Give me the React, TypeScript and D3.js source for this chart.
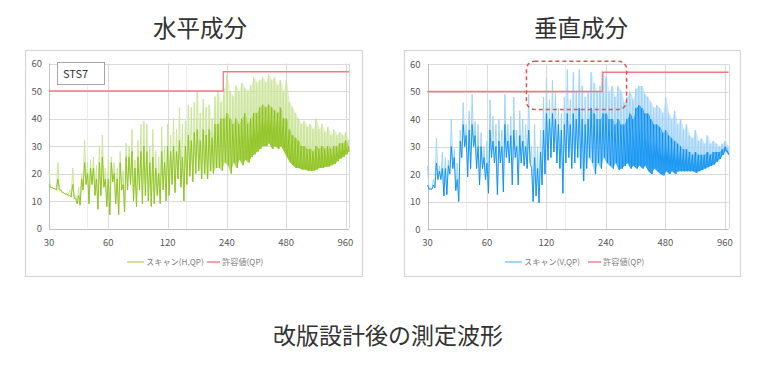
import { useEffect, useRef } from "react";
import * as d3 from "d3";

// scan is shown as log-spaced bins (20 per octave from 30 MHz): spike top, dense core top, dip
const binsPerOctave = 20;
const startFreq = 30;

const freqTicks = [30, 60, 120, 240, 480, 960];
const minorFreqLines = [47, 148];
const levelTicks = [0, 10, 20, 30, 40, 50, 60];

const limitFreqs = [30, 230, 230, 1000];
const limitLevels = [50, 50, 57, 57];

const hPeak = [
  21, 15, 14.5, 24, 14, 13, 12.5, 14, 22, 12, 15, 20, 32, 24, 25, 26, 23, 30, 34, 22,
  25, 26, 24, 22, 28, 21, 31, 30, 36, 25, 32, 38, 39, 38, 30, 36, 28, 26, 37, 30,
  38, 34, 40, 36, 44, 38, 39, 45, 44, 46, 50, 42, 47, 44, 45, 40, 48, 50, 46, 51,
  56, 50, 48, 52, 50, 53, 51, 50, 52, 55, 53, 54, 55, 53, 56, 54, 55, 52, 54, 50,
  54, 46, 44, 42, 40, 38, 39, 37, 38, 36, 40, 36, 38, 35, 37, 34, 36, 34, 35, 34,
  35, 32,
];
const hCore = [
  16, 15, 14.5, 18, 14, 13, 12.5, 12, 16, 11, 12, 18, 24, 20, 22, 22, 18, 24, 26, 18,
  18, 24, 20, 18, 24, 16, 26, 26, 28, 22, 26, 28, 30, 28, 24, 26, 22, 20, 28, 24,
  30, 28, 30, 28, 32, 26, 30, 34, 32, 35, 36, 32, 36, 34, 36, 33, 38, 38, 40, 40,
  42, 40, 38, 40, 38, 40, 42, 38, 40, 42, 42, 44, 45, 44, 45, 44, 43, 42, 44, 40,
  40, 36, 34, 33, 32, 30, 30, 29, 29, 28, 30, 29, 30, 29, 30, 29, 30, 30, 31, 31,
  32, 30,
];
const hDip = [
  15, 14.5, 14, 14, 13, 12.5, 12, 11.5, 11, 9, 8.5, 14, 16, 9, 16, 12, 7, 12, 15, 8,
  5, 17, 9, 5, 14, 6, 14, 16, 10, 8, 14, 9, 12, 10, 8, 9, 12, 9, 14, 10,
  12, 16, 13, 18, 15, 10, 16, 19, 17, 20, 21, 18, 20, 18, 21, 20, 22, 22, 21, 24,
  23, 20, 24, 22, 25, 23, 25, 24, 26, 27, 28, 29, 30, 30, 31, 29, 30, 29, 30, 28,
  26, 24, 23, 22, 22, 21.5, 21.5, 21, 21, 21, 21.5, 22, 22, 22.5, 22.5, 23, 23.5, 24.5, 25.5, 26,
  27, 28,
];

const vPeak = [
  23, 15, 18, 33, 23, 28, 26, 25, 40, 29, 24, 36, 46, 38, 43, 49, 39, 38, 35, 30,
  32, 47, 41, 38, 40, 36, 49, 38, 41, 48, 36, 43, 40, 38, 49, 30, 38, 30, 36, 48,
  55, 47, 54, 50, 44, 42, 48, 58, 47, 57, 50, 58, 52, 48, 50, 57, 53, 50, 52, 57,
  55, 50, 52, 48, 52, 50, 46, 48, 50, 47, 51, 52, 52, 49, 48, 46, 44, 45, 44, 42,
  48, 42, 40, 43, 38, 40, 36, 38, 34, 33, 36, 32, 33, 31, 34, 31, 32, 31, 30, 31,
  32, 30,
];
const vCore = [
  16, 14.5, 16, 24, 21, 22, 22, 23, 30, 26, 18, 32, 38, 34, 36, 38, 34, 30, 30, 26,
  24, 36, 32, 30, 32, 30, 38, 32, 34, 36, 30, 34, 32, 30, 36, 22, 26, 22, 28, 36,
  42, 40, 42, 40, 38, 36, 38, 42, 38, 42, 40, 44, 40, 38, 40, 44, 42, 40, 40, 42,
  42, 40, 40, 38, 40, 38, 38, 40, 42, 40, 44, 45, 44, 42, 42, 40, 38, 38, 37, 35,
  36, 34, 33, 32, 31, 30, 29, 29, 28, 27, 28, 27, 27, 27, 28, 27, 28, 28, 28, 29,
  30, 28,
];
const vDip = [
  14.5, 14.5, 15, 18, 18, 12, 12.5, 20, 22, 14, 10, 26, 30, 19, 22, 30, 22, 16, 22, 18,
  13, 26, 24, 12.5, 24, 13.5, 26, 24, 16, 26, 16, 24, 23, 22, 24, 10, 12, 9.5, 16, 20,
  25, 26, 28, 24, 22, 13, 24, 26, 22, 24, 26, 22, 17.5, 22, 26, 24, 20, 24, 22, 26,
  24, 23, 22, 24, 21.5, 22, 23, 24, 22, 23, 22, 23, 22, 23, 21, 20, 22, 21, 20, 19.5,
  21, 20, 21, 20, 21, 21, 21, 21, 21, 21, 20.5, 21, 21.5, 22, 22.5, 23, 23.5, 24.5, 25.5, 27,
  28.5, 27,
];

// area marked with the dashed box on the vertical chart (MHz, dBuV)
const highlightFreqs = [95, 305];
const highlightLevels = [43.5, 61];

const font = "'Noto Sans CJK JP', 'Noto Sans', sans-serif";

type Panel = {
  id: string;
  frame: [number, number, number, number];
  xRange: [number, number];
  yRange: [number, number];
  peak: number[];
  core: number[];
  dip: number[];
  dark: string;
  light: string;
  legendName: string;
  legendX: number;
  limitLegendX: number;
  title: string;
  titleX: number;
  label?: string;
  highlight?: boolean;
};

const panels: Panel[] = [
  {
    id: "h",
    frame: [25.5, 50.5, 337, 226],
    xRange: [49, 349],
    yRange: [228.5, 63.5],
    peak: hPeak,
    core: hCore,
    dip: hDip,
    dark: "#8cc21a",
    light: "#cce59c",
    legendName: "スキャン(H,QP)",
    legendX: 127,
    limitLegendX: 207,
    title: "水平成分",
    titleX: 200,
    label: "STS7",
  },
  {
    id: "v",
    frame: [404.5, 50.5, 336, 226],
    xRange: [427.5, 728.5],
    yRange: [229, 64],
    peak: vPeak,
    core: vCore,
    dip: vDip,
    dark: "#0a90f2",
    light: "#a2d4fa",
    legendName: "スキャン(V,QP)",
    legendX: 505,
    limitLegendX: 588,
    title: "垂直成分",
    titleX: 581,
    highlight: true,
  },
];

const App = () => {
  const svgRef = useRef<SVGSVGElement>(null);

  useEffect(() => {
    const svg = d3.select(svgRef.current);
    svg.selectAll("*").remove();

    svg.append("rect").attr("width", 776).attr("height", 370).attr("fill", "white");
    const defs = svg.append("defs");

    panels.forEach((p) => {
      const [fx, fy, fw, fh] = p.frame;
      const g = svg.append("g");

      // chart frame
      g.append("rect")
        .attr("x", fx)
        .attr("y", fy)
        .attr("width", fw)
        .attr("height", fh)
        .attr("fill", "white")
        .attr("stroke", "#d6d6d6")
        .attr("stroke-width", 1.2);

      const x = d3.scaleLog().domain([startFreq, 1000]).range(p.xRange);
      const y = d3.scaleLinear().domain([0, 60]).range(p.yRange);

      // horizontal grid
      g.selectAll(".hgrid")
        .data(levelTicks)
        .enter()
        .append("line")
        .attr("x1", p.xRange[0])
        .attr("x2", p.xRange[1])
        .attr("y1", (d) => Math.round(y(d)) + 0.5)
        .attr("y2", (d) => Math.round(y(d)) + 0.5)
        .attr("stroke", "#d9d9d9")
        .attr("stroke-width", 1);

      // vertical grid
      g.selectAll(".vgrid")
        .data([...freqTicks, 1000])
        .enter()
        .append("line")
        .attr("x1", (d) => Math.round(x(d)) + 0.5)
        .attr("x2", (d) => Math.round(x(d)) + 0.5)
        .attr("y1", p.yRange[1])
        .attr("y2", p.yRange[0])
        .attr("stroke", "#d9d9d9")
        .attr("stroke-width", 1);

      g.selectAll(".mgrid")
        .data(minorFreqLines)
        .enter()
        .append("line")
        .attr("x1", (d) => Math.round(x(d)) + 0.5)
        .attr("x2", (d) => Math.round(x(d)) + 0.5)
        .attr("y1", p.yRange[1])
        .attr("y2", p.yRange[0])
        .attr("stroke", "#ececec")
        .attr("stroke-width", 1);

      // axis lines
      g.append("line")
        .attr("x1", p.xRange[0])
        .attr("x2", p.xRange[1])
        .attr("y1", Math.round(y(0)) + 0.5)
        .attr("y2", Math.round(y(0)) + 0.5)
        .attr("stroke", "#bfbfbf");
      g.append("line")
        .attr("x1", Math.round(p.xRange[0]) + 0.5)
        .attr("x2", Math.round(p.xRange[0]) + 0.5)
        .attr("y1", p.yRange[1])
        .attr("y2", p.yRange[0])
        .attr("stroke", "#bfbfbf");

      // tick labels
      g.selectAll(".ylab")
        .data(levelTicks)
        .enter()
        .append("text")
        .attr("x", p.xRange[0] - 7)
        .attr("y", (d) => y(d) + 3.5)
        .attr("text-anchor", "end")
        .attr("font-family", font)
        .attr("font-size", 9.5)
        .attr("fill", "#595959")
        .text((d) => d);

      g.selectAll(".xlab")
        .data(freqTicks)
        .enter()
        .append("text")
        .attr("x", (d) => x(d))
        .attr("y", p.yRange[0] + 17)
        .attr("text-anchor", "middle")
        .attr("font-family", font)
        .attr("font-size", 9.5)
        .attr("fill", "#595959")
        .text((d) => d);

      const binFreq = (i: number) => Math.min(startFreq * Math.pow(2, i / binsPerOctave), 1000);

      // scan points get denser with frequency: fade in a solid fill for the upper band
      const grad = (name: string, f0: number, f1: number, op: number) => {
        const lg = defs
          .append("linearGradient")
          .attr("id", `${p.id}-${name}`)
          .attr("gradientUnits", "userSpaceOnUse")
          .attr("x1", x(f0))
          .attr("x2", x(f1))
          .attr("y1", 0)
          .attr("y2", 0);
        lg.append("stop").attr("offset", 0).attr("stop-color", name === "dark" ? p.dark : p.light).attr("stop-opacity", 0);
        lg.append("stop").attr("offset", 1).attr("stop-color", name === "dark" ? p.dark : p.light).attr("stop-opacity", op);
      };
      grad("light", 140, 300, 0.55);
      grad("dark", 170, 320, 0.85);

      const idx = d3.range(p.dip.length);
      const band = (tops: number[]) =>
        d3
          .area<number>()
          .x((i) => x(binFreq(i + 0.25)))
          .y0((i) => y(p.dip[i]))
          .y1((i) => y(tops[i]))(idx);

      g.append("path").attr("d", band(p.peak)).attr("fill", `url(#${p.id}-light)`);
      g.append("path").attr("d", band(p.core)).attr("fill", `url(#${p.id}-dark)`);

      // scan trace: each bin goes up to its top value then down to its dip
      const zig = (tops: number[]) => {
        const pts: [number, number][] = [];
        tops.forEach((t, i) => {
          pts.push([x(binFreq(i)), y(t)]);
          pts.push([x(binFreq(i + 0.5)), y(p.dip[i])]);
        });
        return pts;
      };
      const line = d3.line();

      g.append("path")
        .attr("d", line(zig(p.peak)))
        .attr("fill", "none")
        .attr("stroke", p.light)
        .attr("stroke-width", 1);

      g.append("path")
        .attr("d", line(zig(p.core)))
        .attr("fill", "none")
        .attr("stroke", p.dark)
        .attr("stroke-width", 1)
        .attr("stroke-opacity", 0.9);

      // limit line
      const limitPts: [number, number][] = limitFreqs.map((f, i) => [x(f), y(limitLevels[i])]);
      g.append("path")
        .attr("d", line(limitPts))
        .attr("fill", "none")
        .attr("stroke", "#f07c82")
        .attr("stroke-width", 1.3);

      if (p.highlight) {
        g.append("rect")
          .attr("x", x(highlightFreqs[0]))
          .attr("y", y(highlightLevels[1]))
          .attr("width", x(highlightFreqs[1]) - x(highlightFreqs[0]))
          .attr("height", y(highlightLevels[0]) - y(highlightLevels[1]))
          .attr("rx", 8)
          .attr("fill", "none")
          .attr("stroke", "#f24b50")
          .attr("stroke-width", 1.5)
          .attr("stroke-dasharray", "4,3");
      }

      if (p.label) {
        g.append("rect")
          .attr("x", 57.5)
          .attr("y", 62.5)
          .attr("width", 47)
          .attr("height", 22)
          .attr("fill", "white")
          .attr("stroke", "#a6a6a6");
        g.append("text")
          .attr("x", 63)
          .attr("y", 77.5)
          .attr("font-family", font)
          .attr("font-size", 11)
          .attr("fill", "#333")
          .text(p.label);
      }

      // legend
      const ly = 262;
      g.append("line")
        .attr("x1", p.legendX)
        .attr("x2", p.legendX + 17)
        .attr("y1", ly)
        .attr("y2", ly)
        .attr("stroke", p.light)
        .attr("stroke-width", 2);
      g.append("text")
        .attr("x", p.legendX + 19)
        .attr("y", ly + 3)
        .attr("font-family", font)
        .attr("font-size", 8.2)
        .attr("fill", "#7f7f7f")
        .text(p.legendName);
      g.append("line")
        .attr("x1", p.limitLegendX)
        .attr("x2", p.limitLegendX + 13)
        .attr("y1", ly)
        .attr("y2", ly)
        .attr("stroke", "#f5a3a6")
        .attr("stroke-width", 2);
      g.append("text")
        .attr("x", p.limitLegendX + 15)
        .attr("y", ly + 3)
        .attr("font-family", font)
        .attr("font-size", 8.2)
        .attr("fill", "#7f7f7f")
        .text("許容値(QP)");

      // title
      svg
        .append("text")
        .attr("x", p.titleX)
        .attr("y", 37)
        .attr("text-anchor", "middle")
        .attr("font-family", font)
        .attr("font-size", 23.5)
        .attr("fill", "#333")
        .text(p.title);
    });

    svg
      .append("text")
      .attr("x", 388)
      .attr("y", 344)
      .attr("text-anchor", "middle")
      .attr("font-family", font)
      .attr("font-size", 23)
      .attr("fill", "#333")
      .text("改版設計後の測定波形");
  }, []);

  return (
    <svg
      ref={svgRef}
      width={776}
      height={370}
      style={{ position: "absolute", left: 0, top: 0 }}
    ></svg>
  );
};

export default App;
